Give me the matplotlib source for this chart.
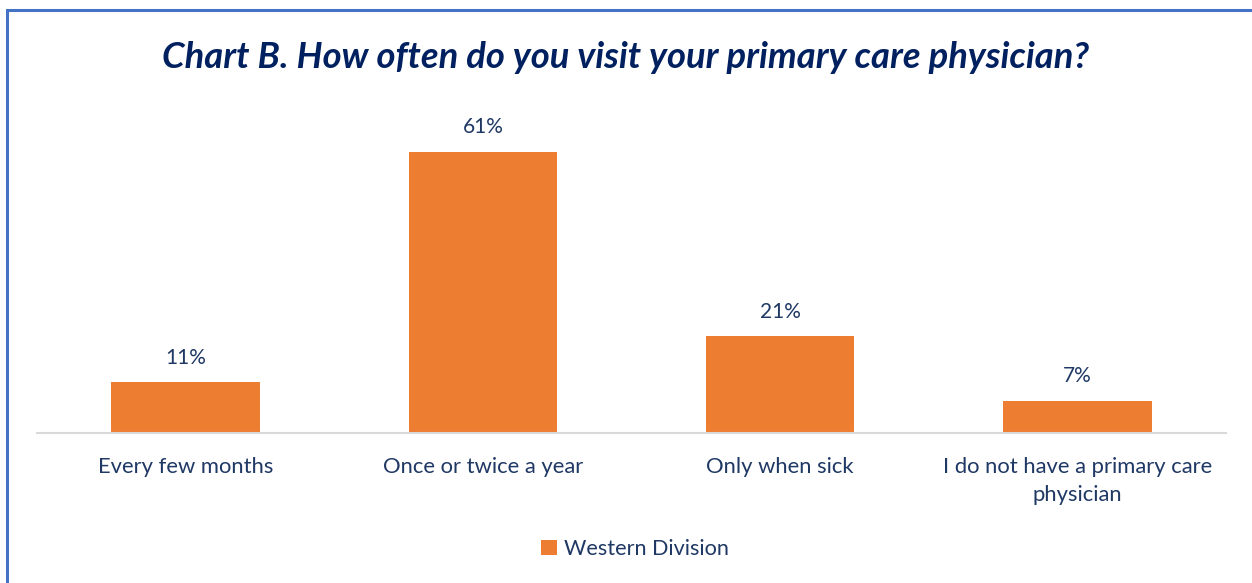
import matplotlib
matplotlib.use("Agg")
import matplotlib.pyplot as plt
from matplotlib.patches import Rectangle

categories = ["Every few months", "Once or twice a year", "Only when sick",
              "I do not have a primary care\nphysician"]
values = [11, 61, 21, 7]
labels = ["11%", "61%", "21%", "7%"]
series_name = "Western Division"
title = "Chart B. How often do you visit your primary care physician?"

W, H = 1252, 583
fig = plt.figure(figsize=(W/100, H/100), dpi=100)
plt.rcParams['font.family'] = ['Lato', 'DejaVu Sans']

navy = "#1F3864"
orange = "#ED7D31"

# border
fig.add_artist(Rectangle((7/W, -0.1), 2.0, 1.1 - 10/H, transform=fig.transFigure,
                         fill=False, edgecolor="#4472C4", linewidth=2.2, clip_on=False))

ax_left, ax_right = 37/W, 1226/W
base = 1 - 433/H
top = 1 - 110.5/H
ax = fig.add_axes([ax_left, base, ax_right - ax_left, top - base])
x = range(len(categories))
bars = ax.bar(x, values, width=0.5, color=orange, label=series_name, zorder=2)
ax.set_xlim(-0.5, 3.5)
ax.set_ylim(0, 70)
for s in ["top", "right", "left"]:
    ax.spines[s].set_visible(False)
ax.spines["bottom"].set_color("#D9D9D9")
ax.spines["bottom"].set_linewidth(1.5)
ax.set_yticks([])
ax.set_xticks(list(x))
ax.set_xticklabels(categories, fontsize=15.8, color=navy, linespacing=1.5)
ax.tick_params(axis="x", length=0, pad=17)
for i, (v, l) in enumerate(zip(values, labels)):
    ax.annotate(l, (i, v), xytext=(0, 10.5), textcoords="offset points",
                ha="center", va="bottom", fontsize=15, color=navy)

fig.text(0.5, 1 - 57/H, title, ha="center", va="center", fontsize=26.2,
         fontweight="bold", fontstyle="italic", color="#002060")

leg = fig.legend(handles=[bars], labels=[series_name], loc="center",
                 bbox_to_anchor=(635/W, 1 - 549/H), frameon=False, fontsize=15.6,
                 handlelength=0.75, handleheight=0.75, handletextpad=0.35)
for t in leg.get_texts():
    t.set_color(navy)

fig.savefig("out.png", dpi=100)
